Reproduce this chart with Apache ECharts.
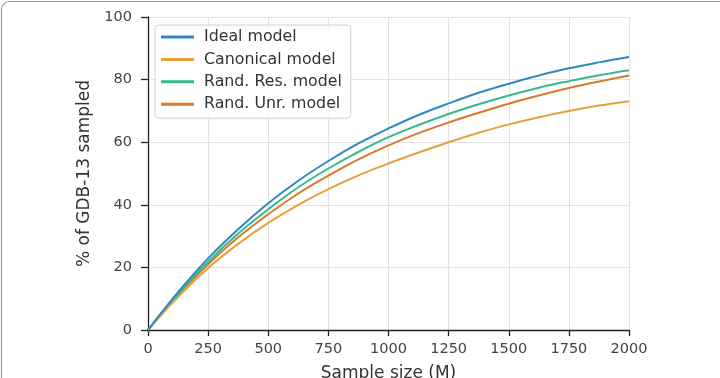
<!DOCTYPE html>
<html>
<head>
<meta charset="utf-8">
<script src="https://cdn.jsdelivr.net/npm/echarts@6/dist/echarts.min.js"></script>
<style>html,body{margin:0;padding:0;background:#fff}#c{width:720px;height:378px}</style>
</head>
<body>
<div id="c"></div>
<script>
var sampleSizes = [0,125,250,375,500,625,750,875,1000,1125,1250,1375,1500,1625,1750,1875,2000];
var idealModel     = [0,12.1,22.9,32.2,40.5,47.7,54.0,59.6,64.4,68.7,72.4,75.8,78.7,81.3,83.6,85.5,87.2];
var canonicalModel = [0,10.5,19.8,27.5,34.2,40.0,45.0,49.4,53.2,56.7,60.0,63.0,65.7,68.0,70.0,71.7,73.1];
var randResModel   = [0,11.5,21.8,30.8,38.6,45.6,51.6,56.9,61.6,65.5,69.0,72.1,74.9,77.4,79.5,81.4,83.0];
var randUnrModel   = [0,11.2,21.0,29.6,37.0,43.6,49.3,54.5,59.0,62.9,66.3,69.4,72.3,74.9,77.3,79.4,81.3];
var xTicks = [0,250,500,750,1000,1250,1500,1750,2000];
var yTicks = [0,20,40,60,80,100];
var seriesNames = ['Ideal model','Canonical model','Rand. Res. model','Rand. Unr. model'];
var seriesColors = ['#2f88c0','#e6a23a','#35b88c','#d9772f'];
var seriesValues = [idealModel, canonicalModel, randResModel, randUnrModel];

function pairs(vals){ return sampleSizes.map(function(x,i){ return [x, vals[i]]; }); }

var font = 'DejaVu Sans';
var chart = echarts.init(document.getElementById('c'), null, {renderer:'canvas'});
chart.setOption({
  animation:false,
  textStyle:{fontFamily:font},
  grid:{left:148, right:91, top:17, bottom:48, containLabel:false, outerBoundsMode:'none'},
  graphic:[{type:'rect', shape:{x:1.5,y:1.5,width:740,height:420,r:8}, style:{fill:'none', stroke:'#9a9a9a', lineWidth:1.2}, z:-1}],
  legend:{
    orient:'vertical', left:155, top:25,
    padding:[4,9,6,6], itemGap:6.4, itemWidth:33, itemHeight:3,
    icon:'rect',
    borderColor:'#d0d0d0', borderWidth:1, borderRadius:4, backgroundColor:'rgba(255,255,255,0.85)',
    textStyle:{fontFamily:font, fontSize:15.8, color:'#333', lineHeight:16, padding:[0,0,0,5]},
    data:seriesNames
  },
  xAxis:{
    type:'value', min:xTicks[0], max:xTicks[xTicks.length-1], interval:xTicks[1]-xTicks[0],
    name:'Sample size (M)', nameLocation:'middle', nameGap:35,
    nameTextStyle:{fontFamily:font, fontSize:17, color:'#333'},
    axisLine:{show:true, lineStyle:{color:'#222', width:1.3}},
    axisTick:{show:true, length:6, lineStyle:{color:'#222', width:1.3}},
    axisLabel:{fontFamily:font, fontSize:14.5, color:'#444', margin:12, formatter:function(v){return String(v);}},
    splitLine:{show:true, lineStyle:{color:'#e2e2e2', width:1}}
  },
  yAxis:{
    type:'value', min:yTicks[0], max:yTicks[yTicks.length-1], interval:yTicks[1]-yTicks[0],
    name:'% of GDB-13 sampled', nameLocation:'middle', nameGap:53, nameRotate:90,
    nameTextStyle:{fontFamily:font, fontSize:17, color:'#333'},
    axisLine:{show:true, lineStyle:{color:'#222', width:1.3}},
    axisTick:{show:true, length:7, lineStyle:{color:'#222', width:1.3}},
    axisLabel:{fontFamily:font, fontSize:14.5, color:'#444', margin:16, formatter:function(v){return String(v);}},
    splitLine:{show:true, lineStyle:{color:'#e2e2e2', width:1}}
  },
  series: seriesNames.map(function(n,i){
    return {name:n, type:'line', data:pairs(seriesValues[i]), smooth:0.4, showSymbol:false, symbol:'none',
      color:seriesColors[i], lineStyle:{width:2, color:seriesColors[i]}, z:5-i};
  })
});
</script>
</body>
</html>
